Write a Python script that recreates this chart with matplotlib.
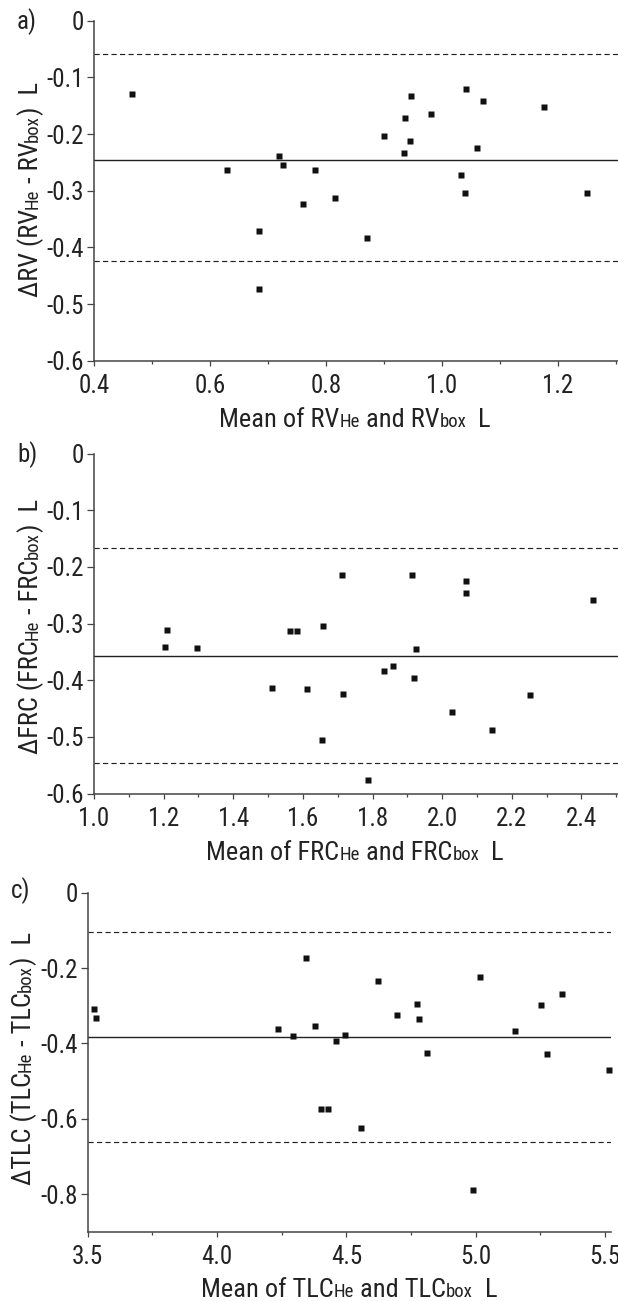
import numpy as np
import matplotlib
matplotlib.use('Agg')
import matplotlib.pyplot as plt
from matplotlib import font_manager
from matplotlib.transforms import IdentityTransform
from matplotlib.ticker import MultipleLocator, FuncFormatter

# panel a: RV
rv_mean = [0.465, 0.630, 0.685, 0.685, 0.720, 0.726, 0.760, 0.781, 0.816, 0.871,
           0.901, 0.935, 0.936, 0.947, 0.946, 0.982, 1.033, 1.040, 1.042, 1.061,
           1.071, 1.177, 1.250]
rv_diff = [-0.130, -0.263, -0.371, -0.473, -0.238, -0.254, -0.323, -0.263, -0.312, -0.383,
           -0.204, -0.233, -0.172, -0.132, -0.213, -0.164, -0.272, -0.304, -0.121, -0.224,
           -0.142, -0.153, -0.304]
rv_lines = [-0.245, -0.059, -0.424]

# panel b: FRC
frc_mean = [1.205, 1.210, 1.295, 1.511, 1.563, 1.584, 1.611, 1.657, 1.656, 1.713,
            1.715, 1.788, 1.834, 1.860, 1.913, 1.926, 1.920, 2.028, 2.067, 2.067,
            2.142, 2.253, 2.432]
frc_diff = [-0.341, -0.311, -0.343, -0.414, -0.313, -0.313, -0.415, -0.305, -0.506, -0.214,
            -0.424, -0.576, -0.384, -0.375, -0.214, -0.345, -0.396, -0.456, -0.225, -0.246,
            -0.488, -0.426, -0.258]
frc_lines = [-0.357, -0.166, -0.546]

# panel c: TLC
tlc_mean = [3.523, 3.532, 4.235, 4.294, 4.344, 4.379, 4.402, 4.430, 4.460, 4.495,
            4.558, 4.621, 4.696, 4.772, 4.780, 4.813, 4.989, 5.018, 5.153, 5.251,
            5.274, 5.335, 5.517]
tlc_diff = [-0.309, -0.333, -0.362, -0.381, -0.173, -0.354, -0.573, -0.573, -0.394, -0.378,
            -0.625, -0.234, -0.325, -0.296, -0.335, -0.426, -0.789, -0.224, -0.367, -0.298,
            -0.428, -0.269, -0.471]
tlc_lines = [-0.384, -0.1035, -0.661]

# narrowest font we can find
have = {f.name for f in font_manager.fontManager.ttflist}
stretch = 'normal'
fam = 'DejaVu Sans'
for name in ['Liberation Sans Narrow', 'Roboto Condensed', 'DejaVu Sans Condensed',
             'Arial Narrow', 'Roboto', 'Liberation Sans']:
    if name in have:
        fam = name
        break
cond = [f for f in font_manager.fontManager.ttflist
        if f.name == fam and f.stretch not in ('normal', 500, 'medium')]
if cond:
    stretch = 'condensed'
plt.rcParams['font.family'] = [fam, 'DejaVu Sans']
plt.rcParams['font.stretch'] = stretch

W, H = 618, 1301
fig = plt.figure(figsize=(W / 100, H / 100), dpi=100)
r = fig.canvas.get_renderer()

TICK = 18
FS = 19
SUB = 13.5
col = '#222222'
axcol = '#444444'
dash = (0, (4.4, 2.8))


def rich_text(pieces, cx, cy, vertical=False):
    # text made of pieces with different sizes, all on one baseline, centred on cx or cy
    arts = []
    for s, fs in pieces:
        t = fig.text(0, 0, s, fontsize=fs, transform=IdentityTransform(), ha='left',
                     va='baseline', rotation=90 if vertical else 0, rotation_mode='anchor',
                     color=col)
        arts.append(t)
    sizes = []
    for t in arts:
        bb = t.get_window_extent(r)
        sizes.append(bb.height if vertical else bb.width)
    pos = (cy if vertical else cx) - sum(sizes) / 2
    for t, s in zip(arts, sizes):
        t.set_position((cx, pos) if vertical else (pos, cy))
        pos += s


def fmt(v, pos):
    if abs(v) < 1e-9:
        return '0'
    return '%.1f' % v


def panel(box, xs, ys, lines, xlim, ylim, xmaj, xmin, ymaj):
    ax = fig.add_axes(box)
    ax.plot(xs, ys, 's', color='#111111', ms=3.7, mec='none', clip_on=False, zorder=3)
    ax.axhline(lines[0], color=col, lw=1.0)
    ax.axhline(lines[1], color=col, lw=0.85, ls=dash)
    ax.axhline(lines[2], color=col, lw=0.85, ls=dash)
    ax.set_xlim(*xlim)
    ax.set_ylim(*ylim)
    ax.xaxis.set_major_locator(MultipleLocator(xmaj))
    ax.xaxis.set_minor_locator(MultipleLocator(xmin))
    ax.yaxis.set_major_locator(MultipleLocator(ymaj))
    ax.xaxis.set_major_formatter(FuncFormatter(lambda v, p: '%.1f' % v))
    ax.yaxis.set_major_formatter(FuncFormatter(fmt))
    for s in ['top', 'right']:
        ax.spines[s].set_visible(False)
    for s in ['left', 'bottom']:
        ax.spines[s].set_linewidth(1.1)
        ax.spines[s].set_color(axcol)
    ax.tick_params(axis='both', which='major', direction='out', width=0.9,
                   color=axcol, labelsize=TICK, labelcolor=col)
    ax.tick_params(axis='x', which='major', length=3.8, pad=6)
    ax.tick_params(axis='y', which='major', length=4.8, pad=2.5)
    ax.tick_params(axis='x', which='minor', direction='out', length=2.4, width=0.9,
                   color=axcol)
    ax.patch.set_visible(False)
    return ax


ax_a = panel([94 / W, 1 - 360.7 / H, 1 - 94 / W, 340 / H], rv_mean, rv_diff, rv_lines,
             (0.4, 1.304), (-0.6, 0), 0.2, 0.1, 0.1)
ax_b = panel([94 / W, 1 - 793.5 / H, 1 - 94 / W, 340 / H], frc_mean, frc_diff, frc_lines,
             (1.0, 2.505), (-0.6, 0), 0.2, 0.1, 0.1)
ax_c = panel([87.7 / W, 1 - 1231.7 / H, (611 - 87.7) / W, 339 / H], tlc_mean, tlc_diff,
             tlc_lines, (3.5, 5.523), (-0.9, 0), 0.5, 0.25, 0.2)

# panel letters
fig.text(17, H - 29, 'a)', fontsize=18, transform=IdentityTransform(), color=col)
fig.text(17, H - 462, 'b)', fontsize=18, transform=IdentityTransform(), color=col)
fig.text(11, H - 898, 'c)', fontsize=18, transform=IdentityTransform(), color=col)

# axis labels with small baseline "subscripts"
rich_text([('Mean of RV', FS), ('He', SUB), (' and RV', FS), ('box', SUB), ('  L', FS)],
          355, H - 427)
rich_text([('Mean of FRC', FS), ('He', SUB), (' and FRC', FS), ('box', SUB), ('  L', FS)],
          355, H - 860)
rich_text([('Mean of TLC', FS), ('He', SUB), (' and TLC', FS), ('box', SUB), ('  L', FS)],
          349, H - 1297)

rich_text([('\u0394RV (RV', FS), ('He', SUB), (' - RV', FS), ('box', SUB), (')  L', FS)],
          38, H - 189.5, vertical=True)
rich_text([('\u0394FRC (FRC', FS), ('He', SUB), (' - FRC', FS), ('box', SUB), (')  L', FS)],
          38, H - 626.5, vertical=True)
rich_text([('\u0394TLC (TLC', FS), ('He', SUB), (' - TLC', FS), ('box', SUB), (')  L', FS)],
          31, H - 1058.5, vertical=True)

fig.savefig('out.png', dpi=100)
